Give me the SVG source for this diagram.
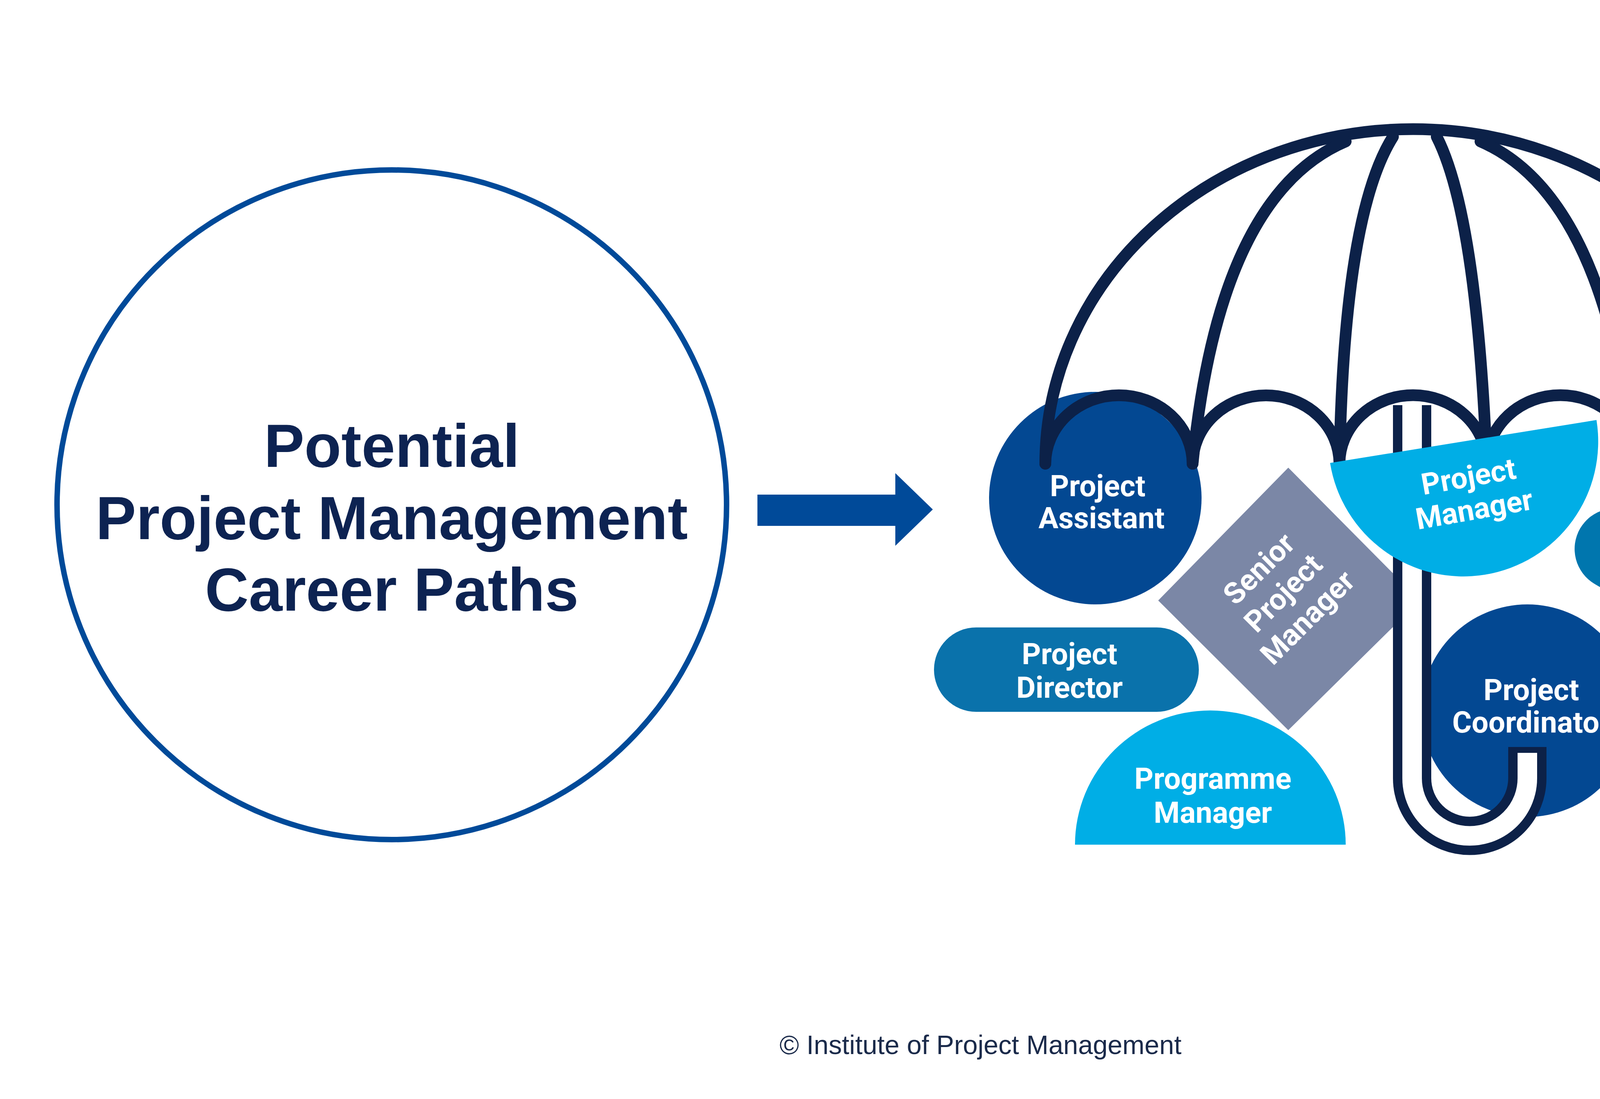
<svg xmlns="http://www.w3.org/2000/svg" width="5000" height="2813" viewBox="0 0 5000 2813">
<style>
.t{font-family:Roboto,"Liberation Sans",sans-serif;font-weight:700;fill:#fff;font-size:76px;text-anchor:middle}
.title{font-family:"Liberation Sans",Arial,sans-serif;font-weight:700;fill:#0d2352;font-size:155px;text-anchor:middle}
.um{fill:none;stroke:#0c2148;stroke-width:30;stroke-linecap:round;stroke-linejoin:round}
</style>
<rect width="5000" height="2813" fill="#fff"/>
<g id="source">
<circle cx="1003" cy="1292" r="857" fill="#fff" stroke="#004a99" stroke-width="14"/>
<text class="title" x="1003" y="1195">Potential</text>
<text class="title" x="1003" y="1380">Project Management</text>
<text class="title" x="1003" y="1563">Career Paths</text>
</g>
<g id="connectors">
<path d="M1939 1266 H2292 V1211 L2388 1304 L2292 1397 V1346 H1939 Z" fill="#004a99"/>
</g>
<g id="node-assistant">
<circle cx="2804" cy="1275" r="272" fill="#034892"/>
</g>
<g id="umbrella">
<path class="um" d="M2676 1187 A941 856 0 0 1 4559 1187"/>
<path class="um" d="M3053 1187 Q3120 500 3445 362"/>
<path class="um" d="M3429 1187 Q3440 550 3566 350"/>
<path class="um" d="M3806 1187 Q3780 550 3678 350"/>
<path class="um" d="M4183 1187 Q4110 500 3790 362"/>
<path class="um" d="M2676 1187 A188 175 0 0 1 3053 1187 A188 175 0 0 1 3429 1187 A188 175 0 0 1 3806 1187 A188 175 0 0 1 4183 1187 A188 175 0 0 1 4559 1187"/>
</g>
<g id="node-senior">
<path d="M3298 1197 L3635 1537 L3298 1869 L2965 1537 Z" fill="#7b87a6"/>
<g transform="rotate(-45 3300 1533)">
<text class="t" x="3300" y="1450">Senior</text>
<text class="t" x="3300" y="1538">Project</text>
<text class="t" x="3300" y="1626">Manager</text>
</g>
</g>
<g id="node-coordinator">
<circle cx="3910" cy="1819" r="272" fill="#034892"/>
<text class="t" x="3920" y="1792">Project</text>
<text class="t" x="3920" y="1875">Coordinator</text>
</g>
<g id="handle">
<path d="M3615 1037 V1992 A147 147 0 0 0 3910 1992 V1912" fill="none" stroke="#0c2148" stroke-width="98"/>
<path d="M3615 1037 V1992 A147 147 0 0 0 3910 1992 V1927" fill="none" stroke="#fff" stroke-width="50"/>
</g>
<g id="node-pm">
<path d="M3405 1185 A345 345 0 0 0 4087 1075 Z" fill="#00aee6"/>
<g transform="rotate(-10 3770 1280)">
<text class="t" x="3770" y="1245">Project</text>
<text class="t" x="3770" y="1330">Manager</text>
</g>
</g>
<g id="node-assistant-label">
<text class="t" x="2810" y="1270">Project</text>
<text class="t" x="2820" y="1352">Assistant</text>
</g>
<g id="node-producer">
<line x1="4135" y1="1405" x2="4648" y2="1706" stroke="#0076ae" stroke-width="208" stroke-linecap="round"/>
<text class="t" x="4420" y="1582" transform="rotate(30.4 4420 1555)">Producer</text>
</g>
<g id="node-director">
<rect x="2391" y="1606" width="678" height="216" rx="108" fill="#0a72ab"/>
<text class="t" x="2738" y="1700">Project</text>
<text class="t" x="2738" y="1786">Director</text>
</g>
<g id="node-programme">
<path d="M2752 2162 A346 343 0 0 1 3445 2162 Z" fill="#00aee6"/>
<text class="t" x="3105" y="2019">Programme</text>
<text class="t" x="3105" y="2106">Manager</text>
</g>
<g id="node-scrum">
<rect x="4175" y="1919" width="689" height="216" rx="108" fill="#0b3870"/>
<text class="t" x="4530" y="2009">Scrum</text>
<text class="t" x="4530" y="2096">Master</text>
</g>
<text x="2510" y="2698" font-family="'Liberation Sans',Arial,sans-serif" font-size="68" fill="#1a2a4a" text-anchor="middle">© Institute of Project Management</text>
</svg>
